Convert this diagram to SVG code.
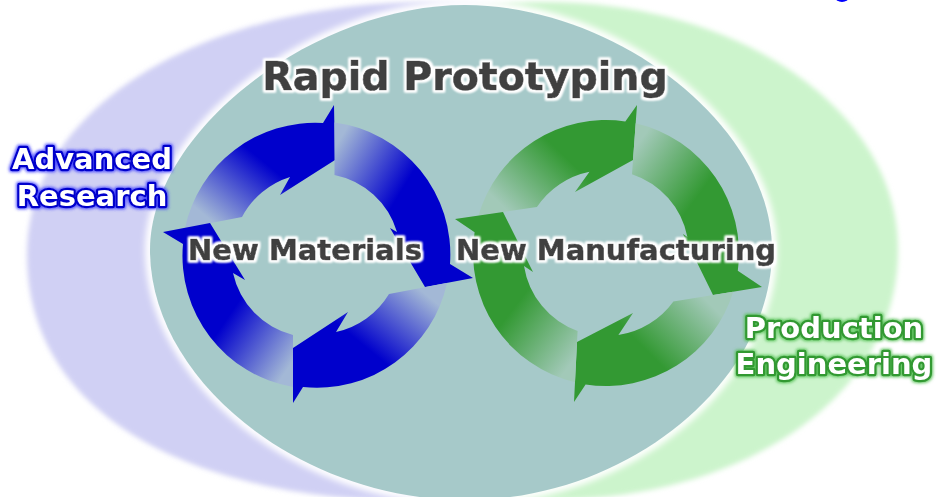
<svg xmlns="http://www.w3.org/2000/svg" width="939" height="497" viewBox="0 0 939 497">
<style>
.lbl{font-family:"DejaVu Sans","Liberation Sans",sans-serif;font-weight:bold;}
.dark{fill:#3f3f3f;stroke:#3f3f3f;stroke-width:0.7;filter:url(#halo);}
.bl{fill:#ffffff;stroke:#0000cc;stroke-width:4.5;paint-order:stroke;stroke-linejoin:round;filter:url(#glowB);}
.gr{fill:#ffffff;stroke:#339933;stroke-width:4.5;paint-order:stroke;stroke-linejoin:round;filter:url(#glowG);}
</style>
<defs>
<filter id="soft" x="-5%" y="-5%" width="110%" height="110%"><feGaussianBlur stdDeviation="2.5"/></filter>
<filter id="blur4" x="-5%" y="-5%" width="110%" height="110%"><feGaussianBlur stdDeviation="3"/></filter>
<filter id="halo" x="-10%" y="-40%" width="120%" height="180%">
<feMorphology in="SourceAlpha" operator="dilate" radius="2.2" result="d"/>
<feGaussianBlur in="d" stdDeviation="1.2" result="b"/>
<feFlood flood-color="#ffffff"/>
<feComposite in2="b" operator="in" result="w"/>
<feMerge><feMergeNode in="w"/><feMergeNode in="w"/><feMergeNode in="SourceGraphic"/></feMerge>
</filter>
<filter id="glowB" x="-10%" y="-40%" width="120%" height="180%">
<feMorphology in="SourceAlpha" operator="dilate" radius="1" result="d"/>
<feGaussianBlur in="d" stdDeviation="1.6" result="b"/>
<feFlood flood-color="#3a3aff" flood-opacity="0.85"/>
<feComposite in2="b" operator="in" result="g"/>
<feMerge><feMergeNode in="g"/><feMergeNode in="SourceGraphic"/></feMerge>
</filter>
<filter id="glowG" x="-10%" y="-40%" width="120%" height="180%">
<feMorphology in="SourceAlpha" operator="dilate" radius="1" result="d"/>
<feGaussianBlur in="d" stdDeviation="1.6" result="b"/>
<feFlood flood-color="#4fbf4f" flood-opacity="0.85"/>
<feComposite in2="b" operator="in" result="g"/>
<feMerge><feMergeNode in="g"/><feMergeNode in="SourceGraphic"/></feMerge>
</filter>
<linearGradient id="bA" gradientUnits="userSpaceOnUse" x1="213" y1="222" x2="263" y2="161"><stop offset="0" stop-color="#a3b8d6"/><stop offset="1" stop-color="#0000cc"/></linearGradient>
<linearGradient id="bB" gradientUnits="userSpaceOnUse" x1="334" y1="149" x2="402" y2="190"><stop offset="0" stop-color="#a3b8d6"/><stop offset="1" stop-color="#0000cc"/></linearGradient>
<linearGradient id="bC" gradientUnits="userSpaceOnUse" x1="418" y1="288" x2="368" y2="349"><stop offset="0" stop-color="#a3b8d6"/><stop offset="1" stop-color="#0000cc"/></linearGradient>
<linearGradient id="bD" gradientUnits="userSpaceOnUse" x1="293" y1="361" x2="228" y2="317"><stop offset="0" stop-color="#a3b8d6"/><stop offset="1" stop-color="#0000cc"/></linearGradient>
<linearGradient id="gA" gradientUnits="userSpaceOnUse" x1="508" y1="211" x2="562" y2="154"><stop offset="0" stop-color="#a2c9b8"/><stop offset="1" stop-color="#339933"/></linearGradient>
<linearGradient id="gB" gradientUnits="userSpaceOnUse" x1="634" y1="149" x2="698" y2="196"><stop offset="0" stop-color="#a2c9b8"/><stop offset="1" stop-color="#339933"/></linearGradient>
<linearGradient id="gC" gradientUnits="userSpaceOnUse" x1="703" y1="297" x2="648" y2="352"><stop offset="0" stop-color="#a2c9b8"/><stop offset="1" stop-color="#339933"/></linearGradient>
<linearGradient id="gD" gradientUnits="userSpaceOnUse" x1="576" y1="357" x2="513" y2="309"><stop offset="0" stop-color="#a2c9b8"/><stop offset="1" stop-color="#339933"/></linearGradient>
</defs>
<rect width="939" height="497" fill="#ffffff"/>
<ellipse cx="842" cy="-3" rx="7" ry="5" fill="#0000ff"/>
<g id="advanced-research">
<path d="M430,2 C215,2 27,100 27,255 C27,420 200,502 430,502 C630,502 830,400 830,255 C830,110 630,2 430,2 Z" fill="#d0d0f4" filter="url(#soft)"/>
</g>
<g id="production-engineering">
<path d="M545,2 C740,2 898,110 898,250 C898,400 740,500 545,500 C350,500 190,400 190,250 C190,110 350,2 545,2 Z" fill="#ccf4cc" filter="url(#soft)"/>
</g>
<g id="rapid-prototyping">
<path d="M465,5 C615,5 772,125 772,250 C772,380 630,500 465,500 C300,500 150,380 150,250 C150,130 315,5 465,5 Z" fill="none" stroke="#ffffff" stroke-width="10" filter="url(#blur4)"/>
<path d="M465,5 C615,5 772,125 772,250 C772,380 630,500 465,500 C300,500 150,380 150,250 C150,130 315,5 465,5 Z" fill="#a6c9c9"/>
<text class="lbl dark" x="465" y="90" font-size="39.5" text-anchor="middle">Rapid Prototyping</text>
</g>
<g id="connectors">
<path fill="url(#gA)" d="M478.4,215.6 A133,133 0 0 1 625.3,121.4 L637,105 L633,160 L575,192 L589.5,171.7 A83,83 0 0 0 536.9,207.1 Z"/>
<path fill="url(#gB)" d="M635.7,123.3 A133,133 0 0 1 737.8,270.8 L762,287 L713,295 L683,234 L687.4,237 A83,83 0 0 0 632,174.2 Z"/>
<path fill="url(#gC)" d="M733.2,291.7 A133,133 0 0 1 585.6,384.4 L574,402 L577,342 L633,313 L618.4,335.1 A83,83 0 0 0 673.4,301.5 Z"/>
<path fill="url(#gD)" d="M575,382.3 A133,133 0 0 1 474.6,232.3 L455,219 L503,212 L533,272 L524,265.9 A83,83 0 0 0 577.6,331 Z"/>
<path fill="url(#bA)" d="M185,228 A133,133 0 0 1 323,123 L334,105 L335,160 L280,195 L290,177 A82,82 0 0 0 242,217 Z"/>
<path fill="url(#bB)" d="M334.5,122.5 A133,133 0 0 1 450,264 L473,278 L425,287 L390,228 L397,232 A82,82 0 0 0 334.5,175 Z"/>
<path fill="url(#bC)" d="M447,283 A133,133 0 0 1 303,387 L293,403 L293,348 L348,312 L336,332 A82,82 0 0 0 389,294 Z"/>
<path fill="url(#bD)" d="M293,387 A133,133 0 0 1 183,244 L163,232 L210,223 L245,280 L233,273 A82,82 0 0 0 293,335 Z"/>
</g>
<g id="new-materials">
<text class="lbl dark" x="305" y="260" font-size="29" text-anchor="middle">New Materials</text>
</g>
<g id="new-manufacturing">
<text class="lbl dark" x="616" y="260" font-size="29" text-anchor="middle">New Manufacturing</text>
</g>
<g id="advanced-research-label">
<text class="lbl bl" x="92" y="169" font-size="29" text-anchor="middle">Advanced</text>
<text class="lbl bl" x="92" y="206" font-size="29" text-anchor="middle">Research</text>
</g>
<g id="production-engineering-label">
<text class="lbl gr" x="834" y="338" font-size="29" text-anchor="middle">Production</text>
<text class="lbl gr" x="834" y="374" font-size="29" text-anchor="middle">Engineering</text>
</g>
</svg>
